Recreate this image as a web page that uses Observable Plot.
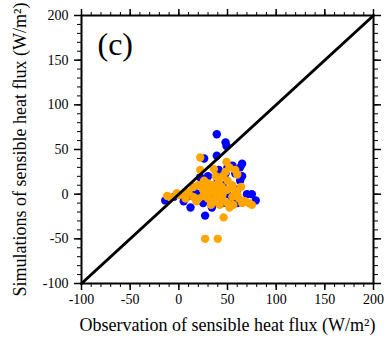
<!DOCTYPE html>
<html>
<head>
<meta charset="utf-8">
<script src="https://cdn.jsdelivr.net/npm/d3@7"></script>
<script src="https://cdn.jsdelivr.net/npm/@observablehq/plot@0.6"></script>
<style>
  html, body { margin: 0; padding: 0; background: #fff; }
</style>
</head>
<body>
<div id="chart"></div>
<script>
// Blue series: [observation, simulation]
const blueObs = [39,48,49,39,26,55,65,63,41,48,58,63,22,75,79,-14,12,34,27,45,30,20,50,60,35,10,55,40,-5,30,65,15,60,45,25,50,70,5];
const blueSim = [67,58,54,43,40,32,34,30,27,23,23,15,19,0,-7,-7,-15,-15,-24,10,5,0,0,5,-5,-2,-5,15,-3,20,20,5,-10,-10,-10,30,0,-8];
// Orange series
const orangeObs = [22,22,49,58,52,60,41,-12,-2,7,15,65,75,46,27,40,20,25,30,35,40,45,50,55,60,30,35,40,45,50,55,25,20,15,10,30,38,45,50,33,28,42,52,62,68,72,48,36,18,5,-8,0,56,38,44,26,33,58,64];
const orangeSim = [41,27,36,27,30,22,14,-2,1,-5,8,-10,-12,-26,-50,-50,10,5,0,10,5,0,5,10,0,-5,-8,-3,-6,-10,-3,-2,-5,-3,2,12,20,20,15,3,8,-12,-15,-5,-8,-10,25,28,-8,0,-4,-1,-12,-2,8,15,-12,4,8];
const oneToOne = [-100, 200];
const majorTicks = [-100, -50, 0, 50, 100, 150, 200];
const minorTicks = d3.range(-100, 201, 10);
const panelLabel = "(c)";
const xLabel = "Observation of sensible heat flux (W/m²)";
const yLabel = "Simulations of sensible heat flux (W/m²)";

const blue = blueObs.map((x, i) => ({x, y: blueSim[i]}));
const orange = orangeObs.map((x, i) => ({x, y: orangeSim[i]}));

const font = "'Liberation Serif', 'DejaVu Serif', serif";
const fmt = d => String(d);

const chart = Plot.plot({
  width: 388,
  height: 340,
  marginLeft: 81,
  marginRight: 15,
  marginTop: 15,
  marginBottom: 57,
  style: {fontFamily: font, background: "#fff", color: "#000"},
  x: {domain: [-100, 200]},
  y: {domain: [-100, 200]},
  marks: [
    Plot.dot(blue, {x: "x", y: "y", r: 4.2, fill: "#0000ff", stroke: "none"}),
    Plot.dot(orange, {x: "x", y: "y", r: 4.2, fill: "#ffa500", stroke: "none"}),
    Plot.line(oneToOne, {x: d => d, y: d => d, stroke: "#000", strokeWidth: 3}),
    Plot.frame({stroke: "#000", strokeWidth: 2}),
    Plot.axisX({anchor: "bottom", ticks: majorTicks, tickSize: 7, tickPadding: 4, tickFormat: fmt, fontSize: 14, label: null, strokeWidth: 1.5}),
    Plot.axisX({anchor: "bottom", ticks: minorTicks, tickSize: 4, tickFormat: () => "", label: null}),
    Plot.axisX({anchor: "top", ticks: majorTicks, tickSize: 7, tickFormat: () => "", label: null, strokeWidth: 1.5}),
    Plot.axisX({anchor: "top", ticks: minorTicks, tickSize: 4, tickFormat: () => "", label: null}),
    Plot.axisY({anchor: "left", ticks: majorTicks, tickSize: 7, tickPadding: 6, tickFormat: fmt, fontSize: 14, label: null, strokeWidth: 1.5}),
    Plot.axisY({anchor: "left", ticks: minorTicks, tickSize: 4, tickFormat: () => "", label: null}),
    Plot.axisY({anchor: "right", ticks: majorTicks, tickSize: 7, tickFormat: () => "", label: null, strokeWidth: 1.5}),
    Plot.axisY({anchor: "right", ticks: minorTicks, tickSize: 4, tickFormat: () => "", label: null}),
    Plot.text([panelLabel], {frameAnchor: "top-left", text: d => d, dx: 16, dy: 17, fontSize: 32, textAnchor: "start", lineAnchor: "top", fill: "#000"}),
    Plot.text([xLabel], {frameAnchor: "bottom", text: d => d, dy: 47, fontSize: 18, textAnchor: "middle", fill: "#000"}),
    Plot.text([yLabel], {frameAnchor: "left", text: d => d, dx: -61, rotate: -90, fontSize: 18, textAnchor: "middle", fill: "#000"})
  ]
});
document.getElementById("chart").appendChild(chart);
</script>
</body>
</html>
